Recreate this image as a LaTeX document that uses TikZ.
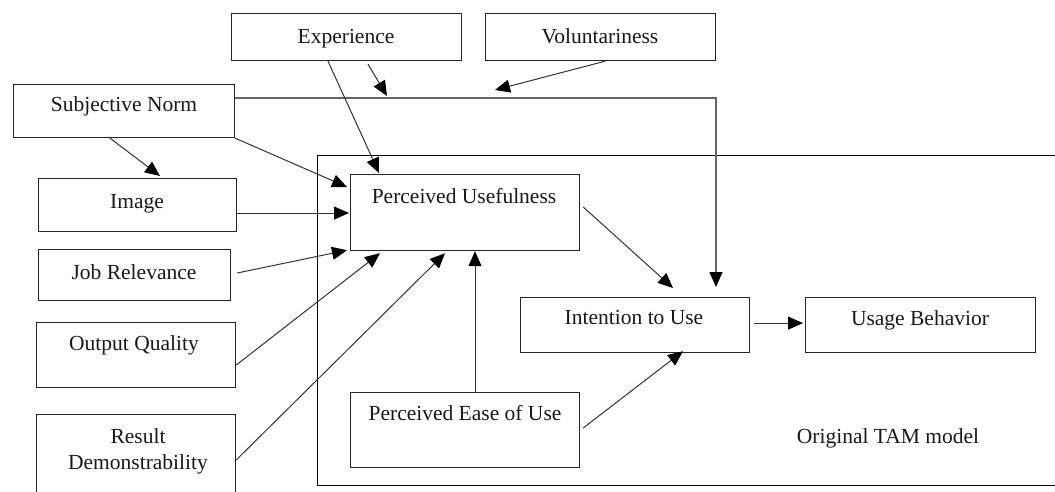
\documentclass[tikz,border=0pt]{standalone}
\usepackage{fontspec}
\setmainfont{Liberation Serif}
\usetikzlibrary{arrows.meta,calc}
\begin{document}
\begin{tikzpicture}[x=1pt,y=-1pt,
  box/.style={draw=black!85, line width=1.2pt, inner sep=0pt, anchor=north west},
  frame/.style={draw=black, line width=1.4pt, inner sep=0pt, anchor=north west},
  lbl/.style={inner sep=0pt, font=\rmfamily\fontsize{21.5pt}{26pt}\selectfont, text=black!90},
  tip/.style={-{Triangle[length=15pt,width=13pt,color=black,fill=black]}},
  arr/.style={tip, draw=black!80, line width=1pt},
  feed/.style={tip, draw=black!60, line width=1.2pt}
]
\clip (0,0) rectangle (1055,491);
\fill[white] (0,0) rectangle (1055,491);

% TAM frame (runs off the right edge)
\node[frame, minimum width=780pt, minimum height=330pt] (tam) at (317,155) {};
\node[lbl, anchor=base] (tamt) at (888,443) {Original TAM model};

% external variables
\node[box, minimum width=230pt, minimum height=47pt] (exp) at (231,13) {};
\node[lbl, anchor=base] (expt) at (346,43) {Experience};
\node[box, minimum width=230pt, minimum height=47pt] (vol) at (485,13) {};
\node[lbl, anchor=base] (volt) at (600,43) {Voluntariness};
\node[box, minimum width=221pt, minimum height=53pt] (sn) at (13,84) {};
\node[lbl, anchor=base] (snt) at (124,111) {Subjective Norm};
\node[box, minimum width=198pt, minimum height=53pt] (im) at (38,178) {};
\node[lbl, anchor=base] (imt) at (137,208) {Image};
\node[box, minimum width=192pt, minimum height=51pt] (jr) at (38,249) {};
\node[lbl, anchor=base] (jrt) at (134,279) {Job Relevance};
\node[box, minimum width=199pt, minimum height=65pt] (oq) at (36,322) {};
\node[lbl, anchor=base] (oqt) at (134,350) {Output Quality};
\node[box, minimum width=199pt, minimum height=110pt] (rd) at (36,414) {};
\node[lbl, align=center] (rdt) at (138,451) {Result\\Demonstrability};

% TAM constructs
\node[box, minimum width=229pt, minimum height=76pt] (pu) at (350,174) {};
\node[lbl, anchor=base] (put) at (464,203) {Perceived Usefulness};
\node[box, minimum width=229pt, minimum height=75pt] (peou) at (350,392) {};
\node[lbl, anchor=base] (peout) at (465,420) {Perceived Ease of Use};
\node[box, minimum width=229pt, minimum height=55pt] (itu) at (520,297) {};
\node[lbl, anchor=base] (itut) at (634,324) {Intention to Use};
\node[box, minimum width=230pt, minimum height=55pt] (ub) at (805,297) {};
\node[lbl, anchor=base] (ubt) at (920,325) {Usage Behavior};

% subjective norm -> intention, moderated by experience and voluntariness
\coordinate (snout) at ($(sn.north east)+(0,14)$);
\coordinate (ituin) at ($(itu.north west)+(196,0)$);
\draw[feed, shorten >=10pt] (snout) -| (ituin);
\coordinate (expin) at (387,96);
\coordinate (volin) at (495,90);
\draw[arr] ($(exp.south west)+(137,3)$) -- (expin);
\draw[arr] ($(vol.south west)+(120,0)$) -- (volin);

% determinants of perceived usefulness
\draw[arr] ($(sn.south west)+(97,0)$) -- ($(im.north west)+(122,-2)$);
\draw[arr] (sn.south east) -- ($(pu.north west)+(-3,13)$);
\draw[arr] ($(exp.south west)+(97,0)$) -- ($(pu.north west)+(29,-1)$);
\draw[arr] ($(im.north east)+(0,35)$) -- ($(pu.north west)+(-1,39)$);
\draw[arr] ($(jr.north east)+(6,24)$) -- ($(pu.south west)+(-3,-1)$);
\draw[arr] ($(oq.north east)+(0,43)$) -- ($(pu.south west)+(30,2)$);
\draw[arr] ($(rd.north east)+(0,46)$) -- ($(pu.south west)+(95,2)$);
\draw[arr] ($(peou.north west)+(125,0)$) -- ($(pu.south west)+(125,0)$);

% core TAM paths
\draw[arr] ($(pu.north east)+(3,33)$) -- ($(itu.north west)+(153,-9)$);
\draw[arr] ($(peou.north east)+(3,36)$) -- ($(itu.south west)+(163,-2)$);
\draw[arr] ($(itu.east)+(4,-2)$) -- ($(ub.west)+(-2,-2)$);
\end{tikzpicture}
\end{document}
